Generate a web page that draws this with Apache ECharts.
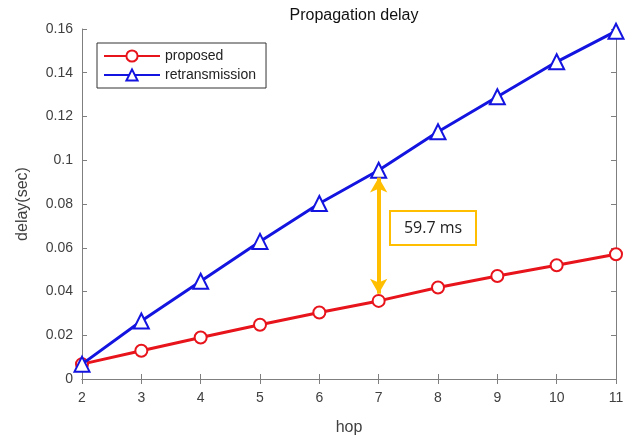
<!DOCTYPE html>
<html>
<head>
<meta charset="utf-8">
<script src="https://cdn.jsdelivr.net/npm/echarts@6/dist/echarts.min.js"></script>
<style>
html, body { margin: 0; padding: 0; background: #fff; }
#main { width: 638px; height: 441px; }
</style>
</head>
<body>
<div id="main"></div>
<script>
// data
const hops = [2, 3, 4, 5, 6, 7, 8, 9, 10, 11];
const proposed = [0.0068, 0.0129, 0.019, 0.0248, 0.0304, 0.0357, 0.0418, 0.0471, 0.052, 0.057];
const retransmission = [0.0068, 0.0265, 0.0447, 0.0629, 0.0802, 0.0954, 0.113, 0.129, 0.145, 0.159];
const yTicks = [0, 0.02, 0.04, 0.06, 0.08, 0.1, 0.12, 0.14, 0.16];
const gapLabel = '59.7 ms';
const gapHop = 7;

const axisColor = '#7f7f7f';
const labelColor = '#404040';
const font = 'Arial, "Liberation Sans", sans-serif';

const myChart = echarts.init(document.getElementById('main'));

function pairs(ys) {
	return hops.map((h, i) => [h, ys[i]]);
}

// arrow end points between the two curves at gapHop
const gi = hops.indexOf(gapHop);
const arrowTop = retransmission[gi] - 0.0033;
const arrowBottom = proposed[gi] + 0.0033;

const baseX = {
	type: 'value', min: hops[0], max: hops[hops.length - 1], interval: 1,
	axisLine: { show: true, lineStyle: { color: axisColor, width: 1 } },
	axisTick: { show: true, inside: true, length: 5, lineStyle: { color: axisColor } },
	splitLine: { show: false }
};
const baseY = {
	type: 'value', min: yTicks[0], max: yTicks[yTicks.length - 1], interval: 0.02,
	axisLine: { show: true, lineStyle: { color: axisColor, width: 1 } },
	axisTick: { show: true, inside: true, length: 5, lineStyle: { color: axisColor } },
	splitLine: { show: false }
};

let option = {
	backgroundColor: '#fff',
	animation: false,
	title: {
		text: 'Propagation delay',
		left: 349, top: 3, textAlign: 'center',
		textStyle: { fontFamily: font, fontSize: 16, fontWeight: 'normal', color: '#111' }
	},
	legend: {
		orient: 'vertical',
		left: 97, top: 43,
		itemWidth: 56, itemHeight: 14, itemGap: 5,
		padding: [6, 10, 6, 6],
		borderColor: '#333', borderWidth: 1,
		textStyle: { fontFamily: font, fontSize: 14, color: '#222' },
		data: ['proposed', 'retransmission']
	},
	grid: { left: 82, top: 29, width: 534, height: 351 },
	xAxis: [
		Object.assign({}, baseX, {
			position: 'bottom',
			name: 'hop', nameLocation: 'middle', nameGap: 41,
			nameTextStyle: { fontFamily: font, fontSize: 16, color: labelColor },
			axisLabel: { fontFamily: font, fontSize: 14, color: labelColor, margin: 12 }
		}),
		Object.assign({}, baseX, { position: 'top', axisLabel: { show: false } })
	],
	yAxis: [
		Object.assign({}, baseY, {
			position: 'left',
			name: 'delay(sec)', nameLocation: 'middle', nameGap: 51,
			nameTextStyle: { fontFamily: font, fontSize: 16, color: labelColor },
			axisLabel: {
				fontFamily: font, fontSize: 14, color: labelColor, margin: 9,
				formatter: v => String(+v.toFixed(2))
			}
		}),
		Object.assign({}, baseY, { position: 'right', axisLabel: { show: false } })
	],
	series: [
		{
			name: 'proposed',
			type: 'line',
			data: pairs(proposed),
			symbol: 'emptyCircle', symbolSize: 12,
			lineStyle: { color: '#e8141c', width: 3 },
			itemStyle: { color: '#e8141c', borderWidth: 2.5 },
			z: 3
		},
		{
			name: 'retransmission',
			type: 'line',
			data: pairs(retransmission),
			symbol: 'emptyTriangle', symbolSize: 15,
			lineStyle: { color: '#1414e0', width: 3 },
			itemStyle: { color: '#1414e0', borderWidth: 2.5 },
			z: 4,
			markLine: {
				silent: true,
				symbol: ['arrow', 'arrow'],
				symbolSize: [13, 15],
				label: { show: false },
				lineStyle: { color: '#ffbf00', width: 4, type: 'solid' },
				data: [[{ coord: [gapHop, arrowTop] }, { coord: [gapHop, arrowBottom] }]]
			}
		}
	],
	graphic: [
		{
			type: 'group', left: 389, top: 210,
			children: [
				{
					type: 'rect', shape: { x: 0, y: 0, width: 86, height: 34 },
					style: { fill: '#fff', stroke: '#ffbf00', lineWidth: 2 }
				},
				{
					type: 'text', x: 43, y: 17,
					style: {
						text: gapLabel, fill: '#222',
						font: '16px "Open Sans", sans-serif',
						align: 'center', verticalAlign: 'middle'
					}
				}
			]
		}
	]
};

myChart.setOption(option);
</script>
</body>
</html>
